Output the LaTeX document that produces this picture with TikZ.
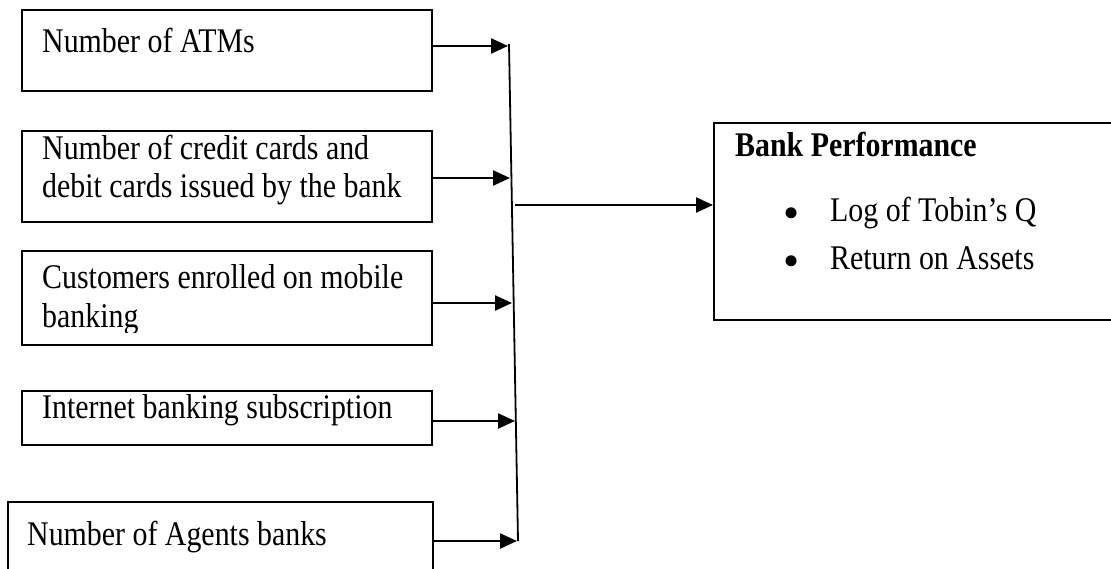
\documentclass[tikz,border=0pt]{standalone}
\usepackage{fontspec}
\setmainfont{Liberation Serif}
\usetikzlibrary{arrows.meta}
\newcommand{\vst}[1]{\scalebox{1.02}[1.18]{#1}}
\begin{document}
\begin{tikzpicture}[x=1pt,y=-1pt,
  box/.style={draw, line width=1.9pt, anchor=north west, inner sep=0pt},
  txt/.style={anchor=base west, inner sep=0pt, font=\fontsize{29.3pt}{37.5pt}\selectfont},
  bul/.style={anchor=base west, inner sep=0pt, font=\fontsize{46pt}{46pt}\selectfont},
  arr/.style={line width=2.4pt, -{Triangle[length=17pt,width=15pt]}},
  vline/.style={line width=1.8pt}
  ]
\useasboundingbox (0,0) rectangle (1111,569);
\fill[white] (0,0) rectangle (1111,569);

% left boxes
\node[box, minimum width=410pt, minimum height=81pt] (b1) at (21,9) {};
\node[box, minimum width=410pt, minimum height=91pt] (b2) at (21,130) {};
\node[box, minimum width=410pt, minimum height=94pt] (b3) at (21,250) {};
\node[box, minimum width=410pt, minimum height=54pt] (b4) at (21,390) {};
\node[box, minimum width=425pt, minimum height=90pt] (b5) at (7,501) {};
% right box
\node[box, minimum width=410pt, minimum height=197pt] (rb) at (713,122) {};

% texts
\node[txt] (t1) at (42,53) {\vst{Number of ATMs}};
\node[txt] (t2a) at (42,160) {\vst{Number of credit cards and}};
\node[txt] (t2b) at (42,197.5) {\vst{debit cards issued by the bank}};
\node[txt] (t3a) at (42,289) {\vst{Customers enrolled on mobile}};
\begin{scope}
  \clip (21,250) rectangle (431,332);
  \node[txt] (t3b) at (42,327) {\vst{banking}};
\end{scope}
\node[txt] (t4) at (42,418) {\vst{Internet banking subscription}};
\node[txt] (t5) at (27,545) {\vst{Number of Agents banks}};

\node[txt, font=\fontsize{29.3pt}{37.5pt}\selectfont\bfseries] (h) at (735,157) {\vst{Bank Performance}};
\node[bul] (d1) at (783,229) {\textbullet};
\node[txt] (l1) at (830,222) {\vst{Log of Tobin’s Q}};
\node[bul] (d2) at (783,277) {\textbullet};
\node[txt] (l2) at (830,270) {\vst{Return on Assets}};

% collector line
\coordinate (vt) at (509,44);
\coordinate (vb) at (518,541);
\draw[vline] (vt) -- (vb);

\coordinate (e1) at (508,46);
\coordinate (e2) at (510,178);
\coordinate (e3) at (512,303);
\coordinate (e4) at (515,421);
\coordinate (e5) at (517,541);

\draw[arr] (b1.east |- e1) -- (e1);
\draw[arr] (b2.east |- e2) -- (e2);
\draw[arr] (b3.east |- e3) -- (e3);
\draw[arr] (b4.east |- e4) -- (e4);
\draw[arr] (b5.east |- e5) -- (e5);

\coordinate (o) at (515,205);
\draw[arr] (o) -- (rb.west |- o);
\end{tikzpicture}
\end{document}
